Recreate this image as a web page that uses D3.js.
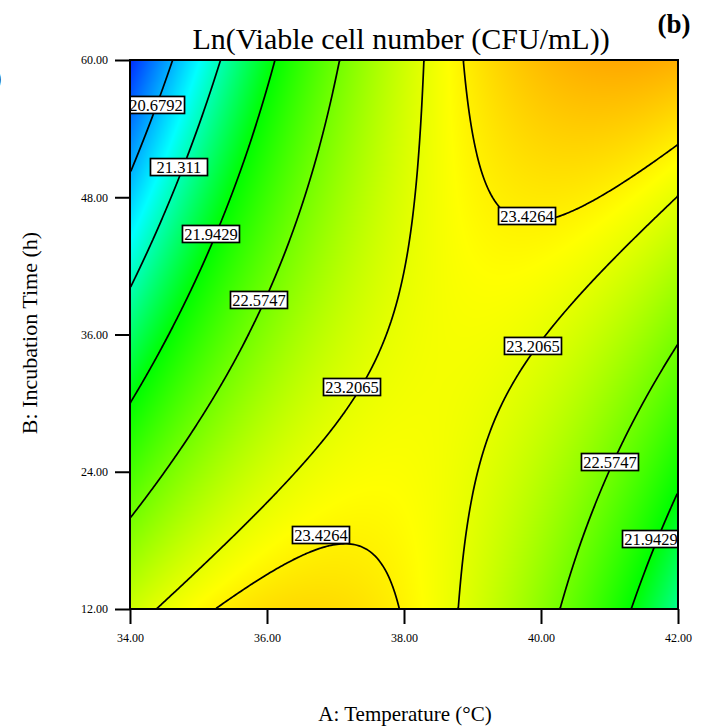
<!DOCTYPE html>
<meta charset="utf-8">
<script src="https://cdn.jsdelivr.net/npm/d3@7"></script>
<style>
body { margin: 0; background: #fff; }
text { font-family: "Liberation Serif", "Times New Roman", serif; fill: #000; }
.axis path { display: none; }
.axis line { stroke: #000; stroke-width: 2; }
.axis text { font-size: 12px; font-family: "Liberation Serif", "Times New Roman", serif; }
</style>
<body>
<script>

// axis ticks
var tempTicks = [34, 36, 38, 40, 42]
var timeTicks = [12, 24, 36, 48, 60]

// fitted quadratic, coded units a=(A-38)/4, b=(B-36)/24
// terms: intercept, A, B, AB, A^2, B^2
var modelCoef = [23.245, 0.525, -0.168, 1.34, -1.155, 0.0]

var contourLevels = [20.6792, 21.311, 21.9429, 22.5747, 23.2065, 23.4264]

// contour labels (level, temperature, time)
var labelLevel = [20.6792, 21.311, 21.9429, 22.5747, 23.2065, 23.2065, 22.5747, 21.9429, 23.4264, 23.4264]
var labelTemp  = [34.38, 34.715, 35.182, 35.883, 37.241, 39.883, 41.007, 41.606, 36.788, 39.796]
var labelTime  = [56.07, 50.64, 44.79, 39.02, 31.41, 35.0, 24.85, 18.12, 18.47, 46.36]

var width = 706, height = 728
var x0 = 130, x1 = 678, y0 = 60, y1 = 609
var pw = x1 - x0, ph = y1 - y0

function model(A, B) {
  var a = (A - 38) / 4, b = (B - 36) / 24, c = modelCoef
  return c[0] + c[1]*a + c[2]*b + c[3]*a*b + c[4]*a*a + c[5]*b*b
}

var x = d3.scaleLinear().domain([34, 42]).range([x0, x1])
var y = d3.scaleLinear().domain([12, 60]).range([y1, y0])

var color = d3.scaleLinear()
  .domain([19.85, 21.05, 21.95, 23.35, 24.75])
  .range(["#0000ff", "#00ffff", "#00ff00", "#ffff00", "#ff0000"])
  .clamp(true)

var svg = d3.select("body").append("svg")
  .attr("width", width)
  .attr("height", height)

svg.append("defs").append("clipPath").attr("id", "plotclip")
  .append("rect").attr("x", x0).attr("y", y0).attr("width", pw).attr("height", ph)

// colour fill, drawn on a canvas and put in as an image
var canvas = document.createElement("canvas")
canvas.width = pw
canvas.height = ph
var ctx = canvas.getContext("2d")
var img = ctx.createImageData(pw, ph)
for (var j = 0; j < ph; ++j) {
  for (var i = 0; i < pw; ++i) {
    var v = model(x.invert(x0 + i + 0.5), y.invert(y0 + j + 0.5))
    var c = d3.rgb(color(v))
    var k = (j * pw + i) * 4
    img.data[k] = c.r; img.data[k+1] = c.g; img.data[k+2] = c.b; img.data[k+3] = 255
  }
}
ctx.putImageData(img, 0, 0)

svg.append("image")
  .attr("x", x0).attr("y", y0)
  .attr("width", pw).attr("height", ph)
  .attr("href", canvas.toDataURL())

// contour lines
var nx = 274, ny = 274
var grid = new Array(nx * ny)
for (var j = 0; j < ny; ++j)
  for (var i = 0; i < nx; ++i)
    grid[j * nx + i] = model(34 + (i + 0.5) / nx * 8, 60 - (j + 0.5) / ny * 48)

var contours = d3.contours().size([nx, ny]).thresholds(contourLevels)(grid)
var proj = d3.geoTransform({
  point: function(px, py) { this.stream.point(x0 + px / nx * pw, y0 + py / ny * ph) }
})

svg.append("g").attr("clip-path", "url(#plotclip)")
  .selectAll("path").data(contours).join("path")
  .attr("d", d3.geoPath(proj))
  .attr("fill", "none")
  .attr("stroke", "#000")
  .attr("stroke-width", 1.7)

// labels
var lab = svg.append("g").attr("clip-path", "url(#plotclip)")
  .selectAll("g").data(labelLevel).join("g")
  .attr("transform", function(d, i) { return "translate(" + x(labelTemp[i]) + "," + y(labelTime[i]) + ")" })

lab.append("rect")
  .attr("x", -28.5).attr("y", -8.5)
  .attr("width", 57).attr("height", 17)
  .attr("fill", "#fff")
  .attr("stroke", "#000")
  .attr("stroke-width", 1.7)

lab.append("text")
  .attr("text-anchor", "middle")
  .attr("dy", "0.36em")
  .style("font-size", "16.5px")
  .text(function(d) { return d })

// frame
svg.append("rect")
  .attr("x", x0).attr("y", y0).attr("width", pw).attr("height", ph)
  .attr("fill", "none").attr("stroke", "#000").attr("stroke-width", 2)

// axes
svg.append("g").attr("class", "axis")
  .attr("transform", "translate(" + x0 + ",0)")
  .call(d3.axisLeft(y).tickValues(timeTicks).tickSize(15).tickPadding(7).tickFormat(d3.format(".2f")))

svg.append("g").attr("class", "axis")
  .attr("transform", "translate(0," + y1 + ")")
  .call(d3.axisBottom(x).tickValues(tempTicks).tickSize(15).tickPadding(9).tickFormat(d3.format(".2f")))

// titles
svg.append("text")
  .attr("x", 401).attr("y", 49)
  .attr("text-anchor", "middle")
  .style("font-size", "30px")
  .text("Ln(Viable cell number (CFU/mL))")

svg.append("text")
  .attr("x", 674).attr("y", 33)
  .attr("text-anchor", "middle")
  .style("font-size", "27px")
  .style("font-weight", "bold")
  .text("(b)")

svg.append("text")
  .attr("x", 405).attr("y", 721)
  .attr("text-anchor", "middle")
  .style("font-size", "21px")
  .text("A: Temperature (°C)")

svg.append("text")
  .attr("transform", "translate(37,333) rotate(-90)")
  .attr("text-anchor", "middle")
  .style("font-size", "22px")
  .text("B: Incubation Time (h)")

// sliver of the neighbouring panel's label
svg.append("text")
  .attr("x", -7).attr("y", 86)
  .style("font-size", "26px")
  .text(")")

</script>
</body>
